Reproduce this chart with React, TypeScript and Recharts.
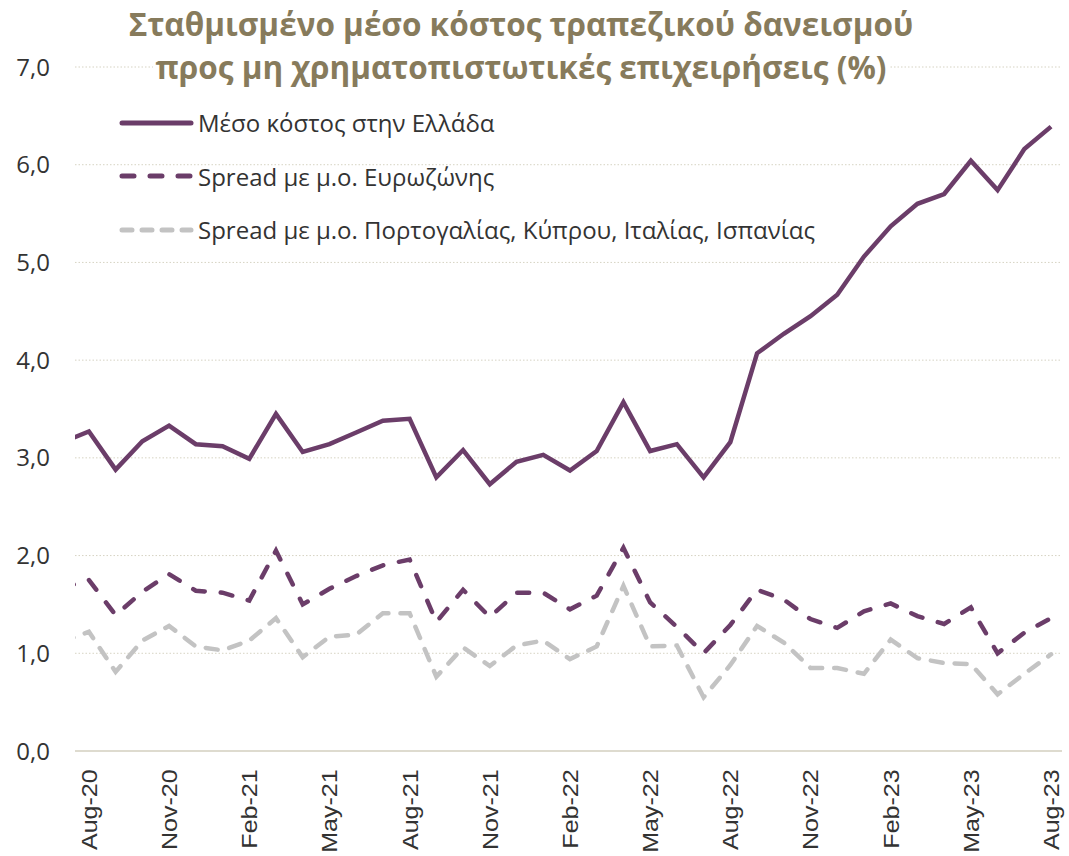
import { LineChart, Line, XAxis, YAxis, CartesianGrid } from 'recharts'

const months = [
  'Jul-20', 'Aug-20', 'Sep-20', 'Oct-20', 'Nov-20', 'Dec-20',
  'Jan-21', 'Feb-21', 'Mar-21', 'Apr-21', 'May-21', 'Jun-21', 'Jul-21', 'Aug-21', 'Sep-21', 'Oct-21', 'Nov-21', 'Dec-21',
  'Jan-22', 'Feb-22', 'Mar-22', 'Apr-22', 'May-22', 'Jun-22', 'Jul-22', 'Aug-22', 'Sep-22', 'Oct-22', 'Nov-22', 'Dec-22',
  'Jan-23', 'Feb-23', 'Mar-23', 'Apr-23', 'May-23', 'Jun-23', 'Jul-23', 'Aug-23',
]

const greece = [
  3.16, 3.27, 2.88, 3.17, 3.33, 3.14,
  3.12, 2.99, 3.45, 3.06, 3.14, 3.26, 3.38, 3.40, 2.80, 3.08, 2.73, 2.96,
  3.03, 2.87, 3.07, 3.57, 3.07, 3.14, 2.80, 3.16, 4.07, 4.27, 4.45, 4.67,
  5.06, 5.37, 5.60, 5.70, 6.04, 5.74, 6.16, 6.39,
]

const spreadEuro = [
  1.67, 1.75, 1.39, 1.63, 1.81, 1.64,
  1.62, 1.54, 2.05, 1.50, 1.66, 1.79, 1.90, 1.96, 1.32, 1.65, 1.37, 1.62,
  1.62, 1.45, 1.59, 2.08, 1.52, 1.27, 1.00, 1.29, 1.65, 1.55, 1.35, 1.26,
  1.43, 1.51, 1.38, 1.30, 1.47, 1.00, 1.21, 1.36,
]

const spreadSouth = [
  1.12, 1.22, 0.81, 1.13, 1.28, 1.07,
  1.03, 1.13, 1.36, 0.96, 1.17, 1.19, 1.41, 1.41, 0.76, 1.06, 0.87, 1.08,
  1.13, 0.94, 1.07, 1.69, 1.07, 1.08, 0.55, 0.88, 1.28, 1.11, 0.85, 0.85,
  0.79, 1.14, 0.95, 0.90, 0.89, 0.58, 0.79, 0.99,
]

const tickLabels = ['Aug-20', 'Nov-20', 'Feb-21', 'May-21', 'Aug-21', 'Nov-21', 'Feb-22', 'May-22', 'Aug-22', 'Nov-22', 'Feb-23', 'May-23', 'Aug-23']
const yTicks = [0, 1, 2, 3, 4, 5, 6, 7]

const seriesNames = [
  'Μέσο κόστος στην Ελλάδα',
  'Spread με μ.ο. Ευρωζώνης',
  'Spread με μ.ο. Πορτογαλίας, Κύπρου, Ιταλίας, Ισπανίας',
]

const PURPLE = '#6B3D69'
const GREY = '#C3C3C3'
const TEXT = '#333333'

const data = months.map((m, i) => ({
  idx: i,
  month: m,
  greece: greece[i],
  euro: spreadEuro[i],
  south: spreadSouth[i],
}))

const xTicks = tickLabels.map((l) => months.indexOf(l))

// rotated month label, stretched a bit along its length like the original
const XTick = (props: any) => {
  const { x, y, payload } = props
  return (
    <g transform={`translate(${x},${y})`}>
      <text
        transform="rotate(-90) scale(1.14 1)"
        x={-9}
        dy="0.36em"
        textAnchor="end"
        fill={TEXT}
        fontSize={22}
        fontFamily="'Liberation Sans', Arial, sans-serif"
      >
        {months[payload.value]}
      </text>
    </g>
  )
}

const legendRows = [
  { name: seriesNames[0], color: PURPLE, dash: undefined },
  { name: seriesNames[1], color: PURPLE, dash: '12 16' },
  { name: seriesNames[2], color: GREY, dash: '10 10' },
]

const App = () => (
  <div style={{ position: 'relative', width: 1069, height: 856, background: '#fff' }}>
    <style>{'body{margin:0;}'}</style>
    <LineChart width={1069} height={856} data={data} margin={{ top: 67, right: 7, left: 0, bottom: 0 }}>
      <CartesianGrid vertical={false} stroke="#D6D3C3" strokeDasharray="1.5 2" />
      <XAxis
        dataKey="idx"
        type="number"
        domain={[0.48, 37.41]}
        allowDataOverflow
        ticks={xTicks}
        interval={0}
        tick={<XTick />}
        tickLine={false}
        axisLine={{ stroke: '#DEDBCF', strokeWidth: 2 }}
        height={105}
      />
      <YAxis
        domain={[0, 7]}
        ticks={yTicks}
        width={75}
        axisLine={false}
        tickLine={false}
        tickMargin={19}
        tickFormatter={(v: number) => v.toFixed(1).replace('.', ',')}
        tick={{ fill: TEXT, fontSize: 24, fontFamily: "'Open Sans', sans-serif" }}
      />
      <Line dataKey="south" name={seriesNames[2]} stroke={GREY} strokeWidth={4.5} strokeDasharray="12 12" strokeLinecap="round" dot={false} isAnimationActive={false} />
      <Line dataKey="euro" name={seriesNames[1]} stroke={PURPLE} strokeWidth={4.5} strokeDasharray="12 16" strokeLinecap="round" dot={false} isAnimationActive={false} />
      <Line dataKey="greece" name={seriesNames[0]} stroke={PURPLE} strokeWidth={4.5} dot={false} isAnimationActive={false} />
    </LineChart>

    {/* legend */}
    <div
      style={{
        position: 'absolute',
        left: 119,
        top: 96,
        fontFamily: "'Open Sans', sans-serif",
        fontSize: 24,
        color: TEXT,
      }}
    >
      {legendRows.map((r) => (
        <div key={r.name} style={{ height: 53.5, display: 'flex', alignItems: 'center' }}>
          <svg width={79} height={10} style={{ display: 'block' }}>
            <line x1={3} y1={5} x2={72} y2={5} stroke={r.color} strokeWidth={5} strokeDasharray={r.dash} strokeLinecap="round" />
          </svg>
          <span style={{ whiteSpace: 'nowrap' }}>{r.name}</span>
        </div>
      ))}
    </div>

    {/* title */}
    <div
      style={{
        position: 'absolute',
        left: 0,
        top: 2,
        width: 1042,
        textAlign: 'center',
        fontFamily: "'Open Sans', sans-serif",
        fontWeight: 700,
        fontSize: 31.5,
        lineHeight: '43px',
        color: '#877B5C',
      }}
    >
      <div><span style={{ background: '#fff', padding: '0 3px' }}>Σταθμισμένο μέσο κόστος τραπεζικού δανεισμού</span></div>
      <div><span style={{ background: '#fff', padding: '0 3px' }}>προς μη χρηματοπιστωτικές επιχειρήσεις (%)</span></div>
    </div>
  </div>
)

export default App
